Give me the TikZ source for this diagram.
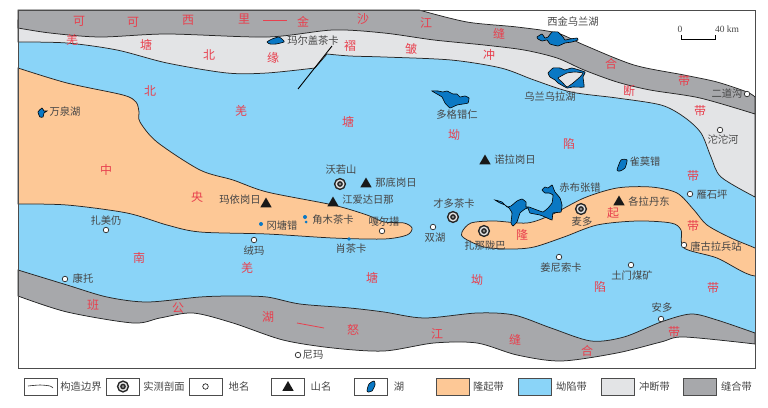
\documentclass[tikz,border=0pt]{standalone}
\usepackage{fontspec}
\setmainfont{Noto Sans CJK SC}
\newfontfamily\latinfont{Liberation Serif}
\usetikzlibrary{shapes.geometric}
\definecolor{suture}{HTML}{A7A8AB}
\definecolor{thrust}{HTML}{E3E4E6}
\definecolor{basin}{HTML}{8AD4F8}
\definecolor{uplift}{HTML}{FDC896}
\definecolor{lakeblue}{HTML}{0A78C4}
\definecolor{beltred}{HTML}{E8404E}
\definecolor{nametxt}{HTML}{454545}
\tikzset{
belt/.style={inner sep=0,text=beltred,font=\fontsize{12}{12}\selectfont},
site/.style={inner sep=0,text=nametxt,font=\fontsize{10.3}{10}\selectfont},
zone/.style={draw=black!85,line width=.75pt},
redline/.style={draw=beltred,line width=.8pt},
lake/.style={draw=black,line width=.6pt,fill=lakeblue},
place/.style={circle,draw=black!85,line width=.7pt,fill=white,minimum size=5.5pt,inner sep=0},
profile/.style={circle,draw=black!85,line width=1.5pt,double=black!12,double distance=1.4pt,fill=black!45,minimum size=7.5pt,inner sep=0},
peak/.style={regular polygon,regular polygon sides=3,fill=black!90,minimum size=13pt,inner sep=0},
legbox/.style={rectangle,draw=black!70,line width=.7pt,minimum width=33pt,minimum height=17pt,inner sep=0}
}
\begin{document}
\begin{tikzpicture}[x=1pt,y=-1pt]
\useasboundingbox (0,0) rectangle (768,407);
% belts, from north to south
\fill[basin] (18,38) -- (18,345) -- (755,345) -- (755,150) -- (690,110) -- (600,80) -- (450,48) -- cycle;
\draw[zone,fill=thrust] plot[smooth] coordinates {(18,42) (67,43) (117,50) (167,63) (227,73) (267,73) (315,68)} -- plot[smooth] coordinates {(327,54) (350,56) (384,57) (451,60) (501,68) (534,80) (571,92) (617,98) (661,105) (684,117) (701,133) (711,157) (721,177) (755,197)} -- (755,110) -- (419,20) -- (18,20) -- cycle;
\draw[zone,fill=suture] (18,10) -- plot[smooth] coordinates {(419,10) (467,22) (517,27) (557,33) (584,45) (634,65) (684,75) (717,82) (747,92) (755,97)} -- plot[smooth] coordinates {(755,114) (700,98) (650,90) (617,82) (584,70) (557,58) (524,50) (484,45) (434,40) (384,33) (333,30) (267,37) (167,34) (100,37) (50,33) (18,28)} -- cycle;
\draw[zone,fill=uplift] plot[smooth] coordinates {(18,68) (67,83) (123,95) (136,102) (139,112) (140,122) (157,142) (200,170) (233,180) (267,192) (333,205) (367,215) (384,222) (404,223) (412,228) (407,235) (384,239) (333,238) (267,234) (200,232) (167,225) (127,213) (67,205) (18,204)} -- cycle;
\begin{scope}
\clip (18,10) rectangle (755,368);
\draw[zone,fill=uplift] plot[smooth cycle] coordinates {(462,232) (471,223) (494,221) (527,223) (551,215) (584,198) (617,188) (651,187) (677,193) (694,210) (707,225) (731,238) (755,248) (785,262) (755,276) (717,258) (684,248) (681,230) (671,223) (637,221) (597,225) (564,237) (534,247) (511,249) (484,247) (464,238)};
\end{scope}
\fill[white] (18,296) -- plot[smooth] coordinates {(18,296) (67,312) (133,323) (160,318) (193,313) (233,323) (283,340) (333,348) (384,351) (434,343) (477,343) (517,355) (561,361) (617,353) (661,342) (684,337) (755,344)} -- (755,368) -- (18,368) -- cycle;
\draw[zone,fill=suture] plot[smooth] coordinates {(18,270) (67,285) (107,297) (147,302) (200,297) (233,296) (267,297) (300,304) (350,308) (384,312) (424,318) (477,313) (514,315) (551,328) (591,341) (624,337) (661,322) (691,314) (717,320) (755,333)} -- plot[smooth] coordinates {(755,344) (684,337) (661,342) (617,353) (561,361) (517,355) (477,343) (434,343) (384,351) (333,348) (283,340) (233,323) (193,313) (160,318) (133,323) (67,312) (18,296)} -- cycle;
\draw[black!70,line width=1pt] (18,10) rectangle (755,368);
% fault and red strokes
\coordinate (faultN) at (332,46); \coordinate (faultS) at (298,89);
\draw[black,line width=.9pt] (faultN) -- (faultS);
\coordinate (dashNa) at (263,20); \coordinate (dashNb) at (287,20);
\draw[redline] (dashNa) -- (dashNb);
\coordinate (dashSa) at (297,323); \coordinate (dashSb) at (324,328);
\draw[redline] (dashSa) -- (dashSb);
% lakes
\draw[lake] plot[smooth cycle,tension=.2] coordinates {(537,37) (542,34) (545,38) (548,37) (552,32) (558,32) (563,37) (565,40) (570,39) (577,38) (578,40) (572,42) (565,43) (558,46) (550,44) (547,40) (542,41) (538,39)};
\draw[lake] plot[smooth cycle,tension=.2] coordinates {(548,73) (553,68) (560,68) (565,70) (572,68) (585,72) (583,77) (584,87) (573,87) (567,88) (558,83) (555,80) (550,77)};
\draw[lake,fill=thrust] plot[smooth cycle,tension=.2] coordinates {(558,78) (567,73) (575,72) (583,73) (580,77) (573,83) (567,87) (562,82)};
\draw[lake] plot[smooth cycle,tension=.2] coordinates {(432,91) (438,91) (443,92) (447,91) (453,94) (457,94) (460,97) (465,96) (469,98) (468,103) (463,104) (457,105) (450,108) (445,103) (442,97) (437,94)};
\draw[lake] plot[smooth cycle,tension=.4] coordinates {(617,170) (621,160) (627,160) (625,168) (620,171)};
\draw[lake] plot[smooth cycle,tension=.2] coordinates {(495,200) (502,202) (507,207) (511,206) (517,201) (522,199) (526,202) (526,207) (529,207) (537,210) (543,212) (548,208) (552,203) (553,195) (549,193) (545,193) (542,190) (545,187) (548,188) (552,185) (553,187) (555,192) (560,198) (562,205) (561,212) (553,213) (552,220) (545,217) (540,215) (530,213) (528,208) (525,209) (520,213) (517,222) (513,226) (511,223) (512,213) (509,208) (505,205) (500,203)};
\draw[lake] plot[smooth cycle,tension=.4] coordinates {(267,42) (272,39) (279,37) (283,40) (284,42) (276,44) (270,44)};
\draw[lake] plot[smooth cycle,tension=.3] coordinates {(38,112) (42,108) (44,111) (47,111) (44,113) (43,117) (40,117)};
\fill[lakeblue] (261,224) circle (2pt); \fill[lakeblue] (305,217) circle (2pt) (306,222) circle (1.5pt); \fill[lakeblue] (349,239) circle (1.8pt);
% red belt names
\node[belt] (r1) at (79,21) {可}; \node[belt] (r2) at (133,22) {可}; \node[belt] (r3) at (188,20) {西}; \node[belt] (r4) at (244,19) {里};
\node[belt] (r5) at (303,22) {金}; \node[belt] (r6) at (363,19) {沙}; \node[belt] (r7) at (426,23) {江}; \node[belt] (r8) at (499,34) {缝};
\node[belt] (r9) at (611,64) {合}; \node[belt] (r10) at (684,81) {带};
\node[belt] (t1) at (72,40) {羌}; \node[belt] (t2) at (146,45) {塘}; \node[belt] (t3) at (209,55) {北}; \node[belt] (t4) at (273,58) {缘};
\node[belt] (t5) at (350,46) {褶}; \node[belt] (t6) at (411,49) {皱}; \node[belt] (t7) at (489,55) {冲}; \node[belt] (t8) at (629,91) {断};
\node[belt] (t9) at (700,111) {带}; \node[belt] (t10) at (693,176) {带};
\node[belt] (b1) at (150,91) {北}; \node[belt] (b2) at (241,111) {羌}; \node[belt] (b3) at (348,122) {塘}; \node[belt] (b4) at (454,135) {坳}; \node[belt] (b5) at (569,144) {陷};
\node[belt] (u1) at (106,170) {中}; \node[belt] (u2) at (197,197) {央}; \node[belt] (u3) at (522,235) {隆}; \node[belt] (u4) at (613,213) {起}; \node[belt] (u5) at (693,226) {带};
\node[belt] (s1) at (139,258) {南}; \node[belt] (s2) at (247,268) {羌}; \node[belt] (s3) at (372,278) {塘}; \node[belt] (s4) at (477,280) {坳}; \node[belt] (s5) at (600,287) {陷}; \node[belt] (s6) at (713,288) {带};
\node[belt] (g1) at (93,305) {班}; \node[belt] (g2) at (178,308) {公}; \node[belt] (g3) at (268,317) {湖}; \node[belt] (g4) at (353,330) {怒};
\node[belt] (g5) at (437,334) {江}; \node[belt] (g6) at (515,340) {缝}; \node[belt] (g7) at (587,351) {合}; \node[belt] (g8) at (674,332) {带};
% places
\node[place] (zhamei) at (106,230) {}; \node[place] (kangtuo) at (65,279) {}; \node[place] (rongma) at (254,240) {}; \node[place] (gaer) at (382,231) {};
\node[place] (shuanghu) at (433,227) {}; \node[place] (jiangni) at (559,257) {}; \node[place] (tumen) at (631,265) {}; \node[place] (anduo) at (661,319) {};
\node[place] (tanggula) at (684,245) {}; \node[place] (yanshi) at (690,194) {}; \node[place] (tuotuo) at (720,130) {}; \node[place] (erdao) at (747,94) {}; \node[place] (nima) at (298,355) {};
% measured profiles
\node[profile] (woruo) at (340,184) {}; \node[profile] (caiduo) at (453,217) {}; \node[profile] (zhana) at (484,231) {}; \node[profile] (maiduo) at (581,209) {};
% peaks
\node[peak] (nadi) at (366,184) {}; \node[peak] (mayi) at (266,204) {}; \node[peak] (jiangai) at (333,203) {}; \node[peak] (nuola) at (485,161) {}; \node[peak] (gela) at (619,202) {};
% names
\node[site] (n1) at (313,41) {玛尔盖茶卡}; \node[site] (n2) at (65,112) {万泉湖}; \node[site] (n3) at (341,170) {沃若山}; \node[site] (n4) at (396,183) {那底岗日};
\node[site] (n5) at (240,200) {玛依岗日}; \node[site] (n6) at (368,200) {江爱达日那}; \node[site] (n7) at (515,160) {诺拉岗日}; \node[site] (n8) at (457,115) {多格错仁};
\node[site] (n9) at (550,97) {乌兰乌拉湖}; \node[site] (n10) at (573,22) {西金乌兰湖}; \node[site] (n11) at (727,94) {二道沟}; \node[site] (n12) at (723,140) {沱沱河};
\node[site] (n13) at (645,162) {雀莫错}; \node[site] (n14) at (580,188) {赤布张错}; \node[site] (n15) at (712,195) {雁石坪}; \node[site] (n16) at (649,202) {各拉丹东};
\node[site] (n17) at (454,204) {才多茶卡}; \node[site] (n18) at (582,222) {麦多}; \node[site] (n19) at (435,238) {双湖}; \node[site] (n20) at (485,246) {扎那陇巴};
\node[site] (n21) at (716,247) {唐古拉兵站}; \node[site] (n22) at (561,268) {姜尼索卡}; \node[site] (n23) at (632,276) {土门煤矿}; \node[site] (n24) at (662,308) {安多};
\node[site] (n25) at (384,222) {嘎尔措}; \node[site] (n26) at (333,220) {角木茶卡}; \node[site] (n27) at (282,226) {冈塘错}; \node[site] (n28) at (351,249) {肖茶卡};
\node[site] (n29) at (254,251) {绒玛}; \node[site] (n30) at (106,221) {扎美仍}; \node[site] (n31) at (83,279) {康托}; \node[site] (n32) at (313,355) {尼玛};
% scale bar
\node[site,font=\latinfont\fontsize{9.5}{10}\selectfont] (sc0) at (680,29) {0}; \node[site,font=\latinfont\fontsize{9.5}{10}\selectfont] (sc40) at (727,29) {40 km};
\coordinate (scA) at (681,35); \coordinate (scB) at (715,35);
\draw[black,line width=.6pt] (scA) -- ++(0,4) -- ++(34,0) -- (scB);
% legend
\node[legbox] (legfault) at (40.5,386.5) {}; \node[site] (txtfault) at (81,387) {构造边界};
\draw[black!85,line width=.6pt] plot[smooth] coordinates {(28,386) (40,385) (50,386) (53,388)};
\node[legbox] (legprofile) at (123,386.5) {}; \node[profile] at (legprofile) {}; \node[site] (txtprofile) at (164,387) {实测剖面};
\node[legbox] (legplace) at (205.5,386.5) {}; \node[place] at (legplace) {}; \node[site] (txtplace) at (239,387) {地名};
\node[legbox] (legpeak) at (288,386.5) {}; \node[peak] at (288,387.5) {}; \node[site] (txtpeak) at (321,387) {山名};
\node[legbox] (leglake) at (371,386.5) {}; \node[site] (txtlake) at (399,387) {湖};
\draw[lake] plot[smooth cycle,tension=.5] coordinates {(367,391) (369,384) (374,381) (375,385) (372,391) (369,392)};
\node[legbox,fill=uplift] (leguplift) at (453,386.5) {}; \node[site] (txtuplift) at (488.5,387) {隆起带};
\node[legbox,fill=basin] (legbasin) at (535,386.5) {}; \node[site] (txtbasin) at (571.5,387) {坳陷带};
\node[legbox,fill=thrust] (legthrust) at (617.5,386.5) {}; \node[site] (txtthrust) at (654.5,387) {冲断带};
\node[legbox,fill=suture] (legsuture) at (700,386.5) {}; \node[site] (txtsuture) at (736.5,387) {缝合带};
\end{tikzpicture}
\end{document}
